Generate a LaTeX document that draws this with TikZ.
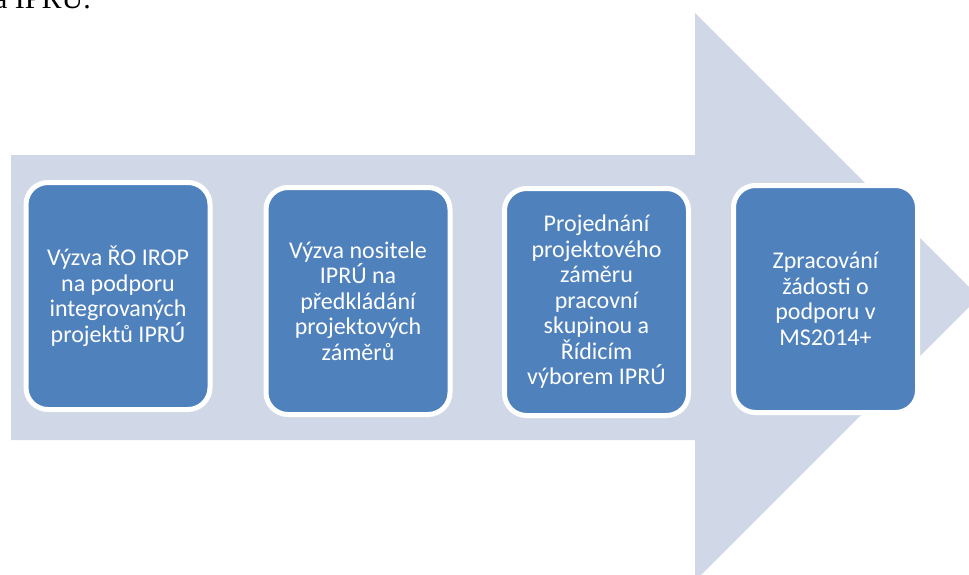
\documentclass[tikz,border=0pt]{standalone}
\usepackage{fontspec}
\setmainfont{Carlito}
\newfontfamily\serifhead{Liberation Serif}
\definecolor{arrowfill}{HTML}{D0D8E8}
\definecolor{boxfill}{HTML}{4F81BD}
\begin{document}
\begin{tikzpicture}[x=1pt,y=-1pt,
  stepbox/.style={draw=white, line width=5pt, fill=boxfill, rounded corners=22pt,
    minimum width=184pt, minimum height=227pt, text=white, align=center,
    inner sep=0pt, font=\fontsize{24}{25.5}\selectfont}]
\useasboundingbox (0,0) rectangle (969,574);
\clip (0,0) rectangle (969,574);
% big arrow
\fill[arrowfill] (11,155) -- (695,155) -- (695,13) -- (979,297) -- (695,581) -- (695,440) -- (11,440) -- cycle;
% heading fragment
\node[anchor=base east, inner sep=0pt, font=\serifhead\fontsize{30}{33}\selectfont] (head) at (91,8) {a IPRÚ.};
% steps
\node[stepbox] (s1) at (118,296) {Výzva ŘO IROP\\na podporu\\integrovaných\\projektů IPRÚ};
\node[stepbox] (s2) at (358,301) {Výzva nositele\\IPRÚ na\\předkládání\\projektových\\záměrů};
\node[stepbox] (s3) at (596.5,302) {Projednání\\projektového\\záměru\\pracovní\\skupinou a\\Řídicím\\výborem IPRÚ};
\node[stepbox] (s4) at (825.5,299) {Zpracování\\žádosti o\\podporu v\\MS2014+};
\end{tikzpicture}
\end{document}
